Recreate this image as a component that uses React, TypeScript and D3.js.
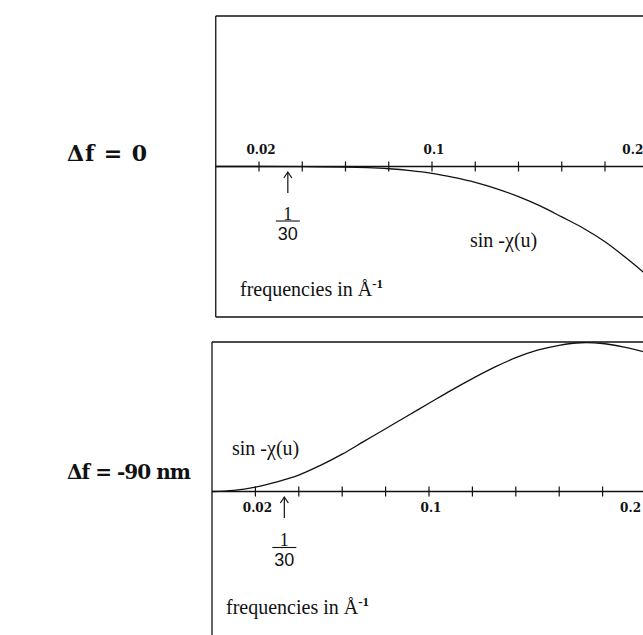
import React from 'react';
import * as d3 from 'd3';

// spatial frequencies (1/Å) and read-off values of sin -chi(u)
const uTop = [0, 0.02, 0.04, 0.06, 0.07, 0.08, 0.09, 0.1, 0.11, 0.12, 0.13, 0.14, 0.15, 0.16, 0.17, 0.18, 0.19, 0.2];
const sinTop = [0, 0, -0.001, -0.004, -0.008, -0.015, -0.027, -0.045, -0.072, -0.105, -0.148, -0.2, -0.262, -0.335, -0.41, -0.5, -0.61, -0.73];

const uBottom = [0, 0.01, 0.02, 0.03, 0.04, 0.05, 0.06, 0.07, 0.08, 0.09, 0.1, 0.11, 0.12, 0.13, 0.14, 0.15, 0.16, 0.17, 0.18, 0.19, 0.2];
const sinBottom = [0, 0.008, 0.03, 0.065, 0.11, 0.175, 0.25, 0.335, 0.42, 0.505, 0.59, 0.675, 0.755, 0.83, 0.895, 0.945, 0.978, 0.995, 0.99, 0.965, 0.93];

const tickValues = [0.02, 0.04, 0.06, 0.08, 0.1, 0.12, 0.14, 0.16, 0.18, 0.2];
const tickLabels = [
  { text: '0.02', u: 0.02 },
  { text: '0.1', u: 0.1 },
  { text: '0.2', u: 0.2 },
];
const marker = 1 / 30;

const panels = [
  { title: 'Δf = 0', titleLen: 80, titleSize: 22, u: uTop, v: sinTop, x0: 215.75, x1: 648.25, top: 16, axis: 166.5, bottom: 317, labelsAbove: true, curveLabel: { x: 470, y: 247 }, freqY: 296, freqX: 240, arrowTop: 172, fracY: 221, titleY: 161 },
  { title: 'Δf = -90 nm', titleLen: 124, titleSize: 20, u: uBottom, v: sinBottom, x0: 212, x1: 646, top: 342, axis: 491.5, bottom: 641, labelsAbove: false, curveLabel: { x: 232, y: 455 }, freqY: 614, freqX: 226, arrowTop: 497, fracY: 547.5, titleY: 479 },
];

const W = 643;
const H = 635;

function Panel({ p }: { p: typeof panels[number] }) {
  const x = d3.scaleLinear().domain([0, 0.2]).range([p.x0, p.x1]);
  const y = d3.scaleLinear().domain([-1, 1]).range([p.axis + (p.axis - p.top), p.top]);
  const line = d3.line<number>()
    .x((d, i) => x(p.u[i]))
    .y(d => y(d))
    .curve(d3.curveCatmullRom);
  const left = x(0);
  const ax = x(marker);

  return (
    <g>
      {/* frame */}
      <line x1={left} x2={W + 20} y1={p.top} y2={p.top} stroke="#111" strokeWidth={1.3} />
      <line x1={left} x2={left} y1={p.top} y2={p.bottom} stroke="#111" strokeWidth={1.3} />
      <line x1={left} x2={W + 20} y1={p.bottom} y2={p.bottom} stroke="#111" strokeWidth={1.3} />

      {/* axis */}
      <line x1={left} x2={W + 20} y1={y(0)} y2={y(0)} stroke="#111" strokeWidth={1.3} />
      {tickValues.map(t => (
        <line key={t} x1={x(t)} x2={x(t)} y1={y(0) - 5} y2={y(0) + 5} stroke="#111" strokeWidth={1.2} />
      ))}
      {tickLabels.map((t, i) => (
        <text key={t.text}
          x={i === tickLabels.length - 1 ? x(t.u) - 5 : x(t.u) + 2}
          y={p.labelsAbove ? y(0) - 13 : y(0) + 20}
          textAnchor={i === tickLabels.length - 1 ? 'end' : 'middle'}
          fontFamily="DejaVu Serif" fontWeight="bold" fontSize={12} fill="#111">{t.text}</text>
      ))}

      {/* curve */}
      <path d={line(p.v) || ''} fill="none" stroke="#111" strokeWidth={1.3} />

      {/* 1/30 marker */}
      <line x1={ax} x2={ax} y1={p.arrowTop} y2={p.arrowTop + 21} stroke="#111" strokeWidth={1.2} />
      <path d={`M${ax - 4},${p.arrowTop + 6} L${ax},${p.arrowTop} L${ax + 4},${p.arrowTop + 6}`} fill="none" stroke="#111" strokeWidth={1.2} />
      <text x={ax} y={p.fracY - 1.5} textAnchor="middle" fontFamily="Liberation Serif" fontSize={18} fill="#111">1</text>
      <line x1={ax - 12} x2={ax + 12} y1={p.fracY} y2={p.fracY} stroke="#111" strokeWidth={1.1} />
      <text x={ax} y={p.fracY + 18.5} textAnchor="middle" fontFamily="Liberation Sans" fontSize={18} fill="#111">30</text>

      {/* labels */}
      <text x={p.curveLabel.x} y={p.curveLabel.y} fontFamily="Liberation Serif" fontSize={20} fill="#111">sin -χ(u)</text>
      <text x={p.freqX} y={p.freqY} fontFamily="Liberation Serif" fontSize={20} fill="#111">
        frequencies in Å<tspan fontSize={13} fontWeight="bold" dy={-8}>-1</tspan>
      </text>
      <text x={67} y={p.titleY} fontFamily="DejaVu Serif" fontWeight="bold" fontSize={p.titleSize}
        textLength={p.titleLen} lengthAdjust="spacing" fill="#111">{p.title}</text>
    </g>
  );
}

export default function App() {
  return (
    <svg width={W} height={H} style={{ position: 'absolute', left: 0, top: 0, background: '#fff' }}>
      <rect x={0} y={0} width={W} height={H} fill="#fff" />
      {panels.map(p => <Panel key={p.title} p={p} />)}
    </svg>
  );
}
